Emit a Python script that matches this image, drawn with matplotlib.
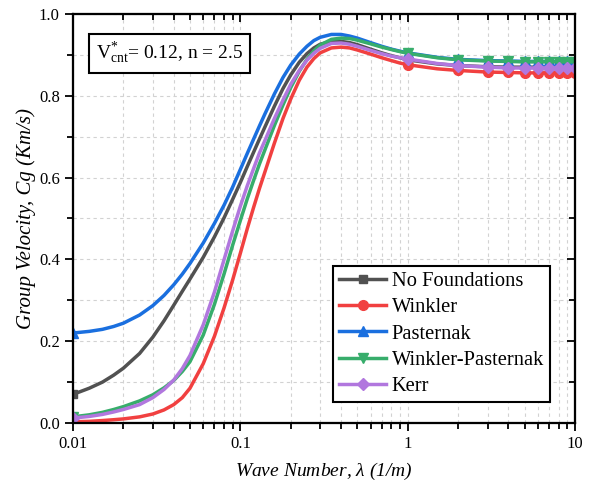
import numpy as np
import matplotlib
matplotlib.use("Agg")
import matplotlib.pyplot as plt
from matplotlib.ticker import (LogLocator, MultipleLocator, FixedFormatter,
                               FixedLocator, FormatStrFormatter)

plt.rcParams["font.family"] = ["Liberation Serif", "DejaVu Serif"]
plt.rcParams["mathtext.fontset"] = "custom"
plt.rcParams["mathtext.rm"] = "Liberation Serif"
plt.rcParams["mathtext.it"] = "Liberation Serif:italic"

# wave number samples (1/m)
lam = [0.01, 0.0125, 0.015, 0.0175, 0.02, 0.025, 0.03, 0.035, 0.04, 0.045,
       0.05, 0.06, 0.07, 0.08, 0.09, 0.1, 0.11, 0.12, 0.13, 0.14,
       0.16, 0.18, 0.2, 0.225, 0.25, 0.275, 0.3, 0.35, 0.4, 0.45,
       0.5, 0.6, 0.7, 0.8, 0.9, 1, 1.5, 2, 3, 4,
       5, 6, 7, 8, 9, 10]

no_found = [0.070, 0.085, 0.100, 0.117, 0.134, 0.170, 0.210, 0.250, 0.288, 0.322,
            0.352, 0.405, 0.455, 0.502, 0.547, 0.588, 0.627, 0.662, 0.694, 0.723,
            0.775, 0.818, 0.851, 0.882, 0.903, 0.917, 0.926, 0.933, 0.933, 0.930,
            0.925, 0.914, 0.905, 0.898, 0.893, 0.888, 0.878, 0.874, 0.871, 0.870,
            0.870, 0.870, 0.870, 0.870, 0.870, 0.870]
winkler = [0.003, 0.004, 0.006, 0.008, 0.010, 0.015, 0.022, 0.032, 0.045, 0.062,
           0.085, 0.145, 0.212, 0.282, 0.350, 0.415, 0.475, 0.527, 0.573, 0.613,
           0.685, 0.745, 0.792, 0.838, 0.870, 0.891, 0.905, 0.917, 0.919, 0.917,
           0.912, 0.902, 0.893, 0.886, 0.880, 0.876, 0.866, 0.862, 0.858, 0.857,
           0.856, 0.856, 0.856, 0.856, 0.856, 0.856]
pasternak = [0.220, 0.224, 0.229, 0.236, 0.244, 0.264, 0.287, 0.312, 0.338, 0.364,
             0.390, 0.440, 0.488, 0.533, 0.577, 0.620, 0.659, 0.694, 0.726, 0.755,
             0.805, 0.845, 0.875, 0.902, 0.921, 0.935, 0.943, 0.950, 0.950, 0.946,
             0.941, 0.930, 0.921, 0.914, 0.909, 0.905, 0.894, 0.889, 0.886, 0.885,
             0.884, 0.884, 0.884, 0.884, 0.884, 0.884]
wink_past = [0.015, 0.020, 0.026, 0.033, 0.040, 0.054, 0.069, 0.086, 0.104, 0.126,
             0.150, 0.215, 0.290, 0.365, 0.435, 0.495, 0.548, 0.593, 0.633, 0.667,
             0.728, 0.778, 0.820, 0.860, 0.889, 0.910, 0.924, 0.938, 0.941, 0.940,
             0.936, 0.927, 0.919, 0.913, 0.908, 0.904, 0.893, 0.888, 0.885, 0.884,
             0.883, 0.883, 0.883, 0.883, 0.883, 0.883]
kerr = [0.012, 0.016, 0.021, 0.027, 0.033, 0.045, 0.062, 0.082, 0.105, 0.133,
        0.165, 0.240, 0.320, 0.400, 0.470, 0.530, 0.580, 0.622, 0.660, 0.690,
        0.745, 0.790, 0.828, 0.862, 0.887, 0.904, 0.916, 0.928, 0.929, 0.926,
        0.921, 0.911, 0.903, 0.897, 0.893, 0.890, 0.879, 0.874, 0.870, 0.868,
        0.868, 0.868, 0.868, 0.868, 0.868, 0.868]

labels = ["No Foundations", "Winkler", "Pasternak", "Winkler-Pasternak", "Kerr"]
series = [no_found, winkler, pasternak, wink_past, kerr]
colors = ["#515151", "#F14040", "#1A6FDF", "#37AD6B", "#B177DE"]
markers = ["s", "o", "^", "v", "D"]
msizes = [6, 7, 7, 7, 6]

# symbols only at 0.01 and 1, 2, ..., 10
mark_idx = [0] + [lam.index(v) for v in [1, 2, 3, 4, 5, 6, 7, 8, 9, 10]]

fig = plt.figure(figsize=(5.95, 4.91), dpi=100)
ax = fig.add_axes([0.1227, 0.1385, 0.8437, 0.833])

for y, lab, c, m, ms in zip(series, labels, colors, markers, msizes):
    ax.plot(lam, y, color=c, lw=2.5, marker=m, ms=ms, markevery=mark_idx,
            label=lab, solid_joinstyle="round")

ax.set_xscale("log")
ax.set_xlim(0.01, 10)
ax.set_ylim(0, 1.0)

ax.xaxis.set_major_locator(FixedLocator([0.01, 0.1, 1, 10]))
ax.xaxis.set_major_formatter(FixedFormatter(["0.01", "0.1", "1", "10"]))
ax.xaxis.set_minor_locator(LogLocator(base=10, subs=np.arange(2, 10)))
ax.xaxis.set_minor_formatter(FixedFormatter([]))
ax.yaxis.set_major_locator(MultipleLocator(0.2))
ax.yaxis.set_minor_locator(MultipleLocator(0.1))
ax.yaxis.set_major_formatter(FormatStrFormatter("%.1f"))

ax.tick_params(which="both", direction="out", labelsize=12, width=1.3)
ax.tick_params(which="major", length=6)
ax.tick_params(which="minor", length=4)

# mirrored inward ticks on top and right
axt = ax.twiny()
axt.set_xscale("log")
axt.set_xlim(ax.get_xlim())
axt.xaxis.set_major_locator(FixedLocator([0.01, 0.1, 1, 10]))
axt.xaxis.set_minor_locator(LogLocator(base=10, subs=np.arange(2, 10)))
axt.tick_params(which="both", direction="in", labeltop=False, width=1.3)
axt.tick_params(which="major", length=6)
axt.tick_params(which="minor", length=4)
axr = ax.twinx()
axr.set_ylim(ax.get_ylim())
axr.yaxis.set_major_locator(MultipleLocator(0.2))
axr.yaxis.set_minor_locator(MultipleLocator(0.1))
axr.tick_params(which="both", direction="in", labelright=False, width=1.3)
axr.tick_params(which="major", length=6)
axr.tick_params(which="minor", length=4)

for a in (ax, axt, axr):
    for s in a.spines.values():
        s.set_linewidth(1.5)

ax.grid(which="both", color="#d2d2d2", linestyle=(0, (3, 3)), linewidth=0.8)
ax.set_axisbelow(True)

ax.set_xlabel(r"Wave Number, $\lambda$ (1/m)", fontsize=14, style="italic", labelpad=6)
ax.set_ylabel("Group Velocity, Cg (Km/s)", fontsize=15, style="italic", labelpad=2)

ax.text(0.045, 0.935, r"V$^{*}_{\rm cnt}$= 0.12, n = 2.5", transform=ax.transAxes,
        fontsize=14, va="top", ha="left",
        bbox=dict(boxstyle="square,pad=0.35", facecolor="white", edgecolor="black", lw=1.5))

leg = ax.legend(loc="lower left", bbox_to_anchor=(0.518, 0.051), fontsize=14.8,
                frameon=True, fancybox=False, edgecolor="black", framealpha=1,
                handlelength=2.3, handletextpad=0.25, labelspacing=0.33,
                borderpad=0.3, borderaxespad=0)
leg.get_frame().set_linewidth(1.5)
leg.set_zorder(10)

fig.savefig("out.png", dpi=100)
